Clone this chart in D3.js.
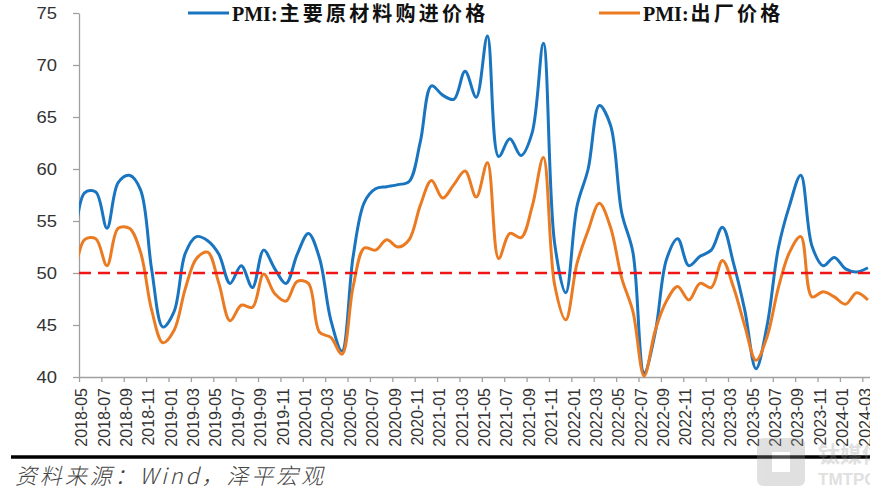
<!DOCTYPE html>
<html>
<head>
<meta charset="utf-8">
<script src="https://cdn.jsdelivr.net/npm/d3@7/dist/d3.min.js"></script>
<style>
  html, body { margin: 0; padding: 0; background: #fff; }
  svg { display: block; }
</style>
</head>
<body>
<div id="chart"></div>
<script>
// ---- data ----
// months (first value, 2018-04, lies left of the plot area and is clipped)
const months = [];
for (let yr = 2018; yr <= 2024; yr++) {
  for (let m = 1; m <= 12; m++) {
    const s = yr + "-" + String(m).padStart(2, "0");
    if (s >= "2018-04" && s <= "2024-03") months.push(s);
  }
}
const seriesNames = ["PMI:主要原材料购进价格", "PMI:出厂价格"];
const purchasePrice = [
  51.5, 57.7, 57.8, 54.3, 58.7, 59.4, 58.0, 50.3, 44.8,
  46.3, 51.9, 53.5, 53.1, 51.8, 49.0, 50.7, 48.6, 52.2, 50.4, 49.0, 51.8,
  53.8, 51.4, 45.5, 42.5, 51.6, 56.8, 58.1, 58.3, 58.5, 58.8, 62.6, 68.0,
  67.1, 66.7, 69.4, 66.9, 72.8, 61.2, 62.9, 61.3, 63.5, 72.1, 52.9, 48.1,
  56.4, 60.0, 66.1, 64.2, 55.8, 52.0, 40.4, 44.3, 51.3, 53.3, 50.7, 51.6,
  52.2, 54.4, 50.9, 46.4, 40.8, 45.0, 52.4, 56.5, 59.4, 52.6, 50.7, 51.5,
  50.4, 50.1, 50.5
];
const factoryPrice = [
  49.0, 53.2, 53.3, 50.7, 54.3, 54.3, 52.0, 46.4, 43.3,
  44.5, 48.5, 51.4, 52.0, 49.0, 45.4, 46.9, 46.7, 49.9, 48.0, 47.3, 49.2,
  49.0, 44.3, 43.8, 42.2, 48.7, 52.4, 52.2, 53.2, 52.5, 53.2, 56.5, 58.9,
  57.2, 58.5, 59.8, 57.3, 60.6, 51.4, 53.8, 53.4, 56.4, 61.1, 48.9, 45.5,
  50.9, 54.1, 56.7, 54.4, 49.5, 46.3, 40.1, 44.5, 47.3, 48.7, 47.4, 49.0,
  48.6, 51.2, 48.6, 44.9, 41.6, 43.9, 48.6, 52.0, 53.5, 47.7, 48.2, 47.7,
  47.0, 48.1, 47.4
];
const yTicks = [40, 45, 50, 55, 60, 65, 70, 75];
const refLine = 50;
const sourceText = "资料来源：Wind，泽平宏观";

// ---- layout ----
const W = 870, H = 492;
const plotLeft = 79, plotTop = 13, plotBottom = 377;
const step = 11.19;
const colors = ["#1a75c0", "#eb7b22"];

const svg = d3.select("#chart").append("svg").attr("width", W).attr("height", H);

const x = d3.scaleLinear().domain([0.5, months.length - 0.5]).range([plotLeft, plotLeft + (months.length - 1) * step]);
const y = d3.scaleLinear().domain([40, 75]).range([plotBottom, plotTop]);

svg.append("defs").append("clipPath").attr("id", "clip")
  .append("rect").attr("x", plotLeft).attr("y", 0).attr("width", W - plotLeft + 20).attr("height", H);

// y axis
const yAxis = svg.append("g").attr("transform", `translate(${plotLeft},0)`)
  .call(d3.axisLeft(y).tickValues(yTicks).tickSize(6).tickPadding(16).tickSizeOuter(0));
yAxis.select(".domain").attr("stroke", "#a0a0a0").attr("stroke-width", 1.3);
yAxis.selectAll(".tick line").attr("stroke", "#a0a0a0").attr("stroke-width", 1.3);
yAxis.selectAll(".tick text").attr("font-family", "'Liberation Sans', Arial, sans-serif")
  .attr("font-size", 16).attr("fill", "#333").attr("transform", "scale(1.15,1)")
  .attr("x", -22 / 1.15);

// x axis: ticks on every second month boundary, labels on every second month
const boundaryIdx = d3.range(0.5, months.length, 2);
const xAxisTicks = svg.append("g").attr("transform", `translate(0,${plotBottom})`)
  .call(d3.axisBottom(x).tickValues(boundaryIdx).tickSize(5).tickFormat("").tickSizeOuter(0));
xAxisTicks.select(".domain").attr("stroke", "#a0a0a0").attr("stroke-width", 1.3)
  .attr("d", `M${plotLeft},0.5H${W + 10}`);
xAxisTicks.selectAll(".tick line").attr("stroke", "#a0a0a0").attr("stroke-width", 1.3);

const labelIdx = d3.range(1, months.length, 2);
svg.append("g").selectAll("text").data(labelIdx).join("text")
  .attr("transform", d => `translate(${x(d) - 3},${plotBottom + 11}) rotate(-90)`)
  .attr("text-anchor", "end").attr("dy", "0.35em")
  .attr("font-family", "'Liberation Sans', Arial, sans-serif").attr("font-size", 16)
  .attr("fill", "#333").text(d => months[d]);

// lines
const line = d3.line().x((d, i) => x(i)).y(d => y(d)).curve(d3.curveCatmullRom.alpha(0.5));
const plot = svg.append("g").attr("clip-path", "url(#clip)");
[purchasePrice, factoryPrice].forEach((s, k) => {
  plot.append("path").datum(s).attr("d", line).attr("fill", "none")
    .attr("stroke", colors[k]).attr("stroke-width", 3).attr("stroke-linejoin", "round");
});

// reference line at 50
svg.append("line").attr("x1", plotLeft).attr("x2", W).attr("y1", y(refLine)).attr("y2", y(refLine))
  .attr("stroke", "#f01515").attr("stroke-width", 2.5).attr("stroke-dasharray", "12,7");

// legend
const legendPos = [{lx: 188, tx: 232}, {lx: 599, tx: 643}];
seriesNames.forEach((name, k) => {
  const g = svg.append("g");
  g.append("line").attr("x1", legendPos[k].lx).attr("x2", legendPos[k].lx + 41)
    .attr("y1", 13).attr("y2", 13).attr("stroke", colors[k]).attr("stroke-width", 3);
  const t = g.append("text").attr("x", legendPos[k].tx).attr("y", 21)
    .attr("font-weight", "bold").attr("fill", "#111");
  t.append("tspan").attr("font-family", "'Liberation Serif', 'Times New Roman', serif")
    .attr("font-size", 20).text(name.slice(0, 4));
  t.append("tspan").attr("font-family", "'Noto Sans CJK SC', sans-serif")
    .attr("font-size", 20).attr("letter-spacing", 3.2).attr("dx", 2).text(name.slice(4));
});

// bottom rule
svg.append("line").attr("x1", 11).attr("x2", W).attr("y1", 457).attr("y2", 457)
  .attr("stroke", "#000").attr("stroke-width", 3.5);

// watermark
const wm = svg.append("g").attr("opacity", 0.3);
wm.append("rect").attr("x", 757).attr("y", 438).attr("width", 48).attr("height", 48).attr("rx", 6).attr("fill", "#9a9a9a");
wm.append("rect").attr("x", 772).attr("y", 452).attr("width", 18).attr("height", 20).attr("fill", "#fff");
wm.append("text").attr("x", 818).attr("y", 462).attr("font-family", "'Noto Sans CJK SC', sans-serif")
  .attr("font-size", 22).attr("font-weight", "bold").attr("fill", "#9a9a9a").text("钛媒体");
wm.append("text").attr("x", 818).attr("y", 485).attr("font-family", "'Liberation Sans', sans-serif")
  .attr("font-size", 17).attr("font-weight", "bold").attr("fill", "#9a9a9a").text("TMTPOST");

// source
svg.append("text").attr("x", 15).attr("y", 484)
  .attr("font-family", "'Noto Sans CJK SC', sans-serif").attr("font-style", "italic")
  .attr("font-weight", 300).attr("font-size", 22).attr("fill", "#444")
  .attr("textLength", 308).attr("lengthAdjust", "spacing")
  .text(sourceText);
</script>
</body>
</html>
